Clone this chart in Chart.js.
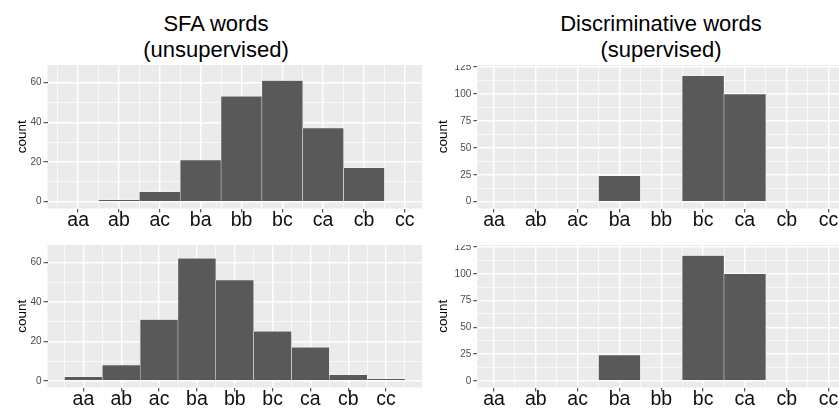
<!DOCTYPE html>
<html>
<head>
<meta charset="utf-8">
<script src="https://cdn.jsdelivr.net/npm/chart.js@4.4.1/dist/chart.umd.min.js"></script>
<style>
  html, body { margin: 0; padding: 0; background: #ffffff; }
  body { width: 839px; height: 408px; overflow: hidden; position: relative; font-family: "Liberation Sans", Arial, sans-serif; }
  .title { position: absolute; top: 10.5px; text-align: center; font-size: 22px; line-height: 26px; color: #000; white-space: nowrap; }
  canvas { position: absolute; }
</style>
</head>
<body>
<div class="title" style="left:0;width:432px">SFA words<br>(unsupervised)</div>
<div class="title" style="left:432px;width:458px">Discriminative words<br>(supervised)</div>
<canvas id="tl" width="422" height="165" style="left:0;top:65px"></canvas>
<canvas id="bl" width="422" height="163" style="left:0;top:245px"></canvas>
<canvas id="tr" width="407" height="165" style="left:432px;top:65px"></canvas>
<canvas id="br" width="407" height="163" style="left:432px;top:245px"></canvas>
<script>
// ---- data ----
const categories = ['aa', 'ab', 'ac', 'ba', 'bb', 'bc', 'ca', 'cb', 'cc'];
const sfaUnsupTop = [0, 1, 5, 21, 53, 61, 37, 17, 0];
const sfaUnsupBottom = [2, 8, 31, 62, 51, 25, 17, 3, 1];
const discSupTop = [0, 0, 0, 24, 0, 117, 100, 0, 0];
const discSupBottom = [0, 0, 0, 24, 0, 117, 100, 0, 0];
const sfaCountMajor = [0, 20, 40, 60];
const sfaCountMinor = [10, 30, 50];
const discCountMajor = [0, 25, 50, 75, 100, 125];
const discCountMinor = [12.5, 37.5, 62.5, 87.5, 112.5];
const yTitle = 'count';

Chart.defaults.font.family = '"Liberation Sans", Arial, sans-serif';

const panelBg = {
  id: 'panelBg',
  beforeDraw(chart) {
    const { ctx, chartArea: a } = chart;
    ctx.save();
    ctx.fillStyle = '#EBEBEB';
    ctx.fillRect(a.left, a.top, a.right - a.left, a.bottom - a.top);
    ctx.restore();
  }
};

function makePanel(id, values, o) {
  const catPos = categories.map((c, i) => i + 1);
  const xMinor = categories.map((c, i) => i + 0.5).concat([categories.length + 0.5]);
  const xTicks = catPos.concat(xMinor).filter(v => v >= o.xMin && v <= o.xMax).sort((a, b) => a - b);
  const yTicks = o.yMajor.concat(o.yMinor).filter(v => v >= o.yMin && v <= o.yMax).sort((a, b) => a - b);
  const xMajorSet = new Set(catPos);
  const yMajorSet = new Set(o.yMajor);
  const gridFor = (set) => ({
    offset: false,
    color: '#FFFFFF',
    lineWidth: (c) => (c.tick && set.has(c.tick.value)) ? 1.4 : 0.7,
    tickColor: (c) => (c.tick && set.has(c.tick.value)) ? '#333333' : 'rgba(0,0,0,0)',
    tickWidth: (c) => (c.tick && set.has(c.tick.value)) ? 1 : 0,
    tickLength: 4,
    drawOnChartArea: true,
    drawTicks: true
  });
  return new Chart(document.getElementById(id), {
    type: 'bar',
    data: {
      datasets: [{
        data: values.map((v, i) => ({ x: catPos[i], y: v })),
        backgroundColor: '#595959',
        borderColor: '#FFFFFF',
        borderWidth: 0.5,
        barThickness: 'flex',
        categoryPercentage: 1,
        barPercentage: 1
      }]
    },
    options: {
      responsive: false,
      maintainAspectRatio: false,
      devicePixelRatio: 1,
      animation: false,
      events: [],
      layout: { padding: 0 },
      plugins: { legend: { display: false }, tooltip: { enabled: false }, title: { display: false } },
      scales: {
        x: {
          type: 'linear',
          offset: false,
          min: o.xMin,
          max: o.xMax,
          bounds: 'data',
          afterBuildTicks: (s) => { s.ticks = xTicks.map(v => ({ value: v })); },
          afterFit: (s) => { s.height = o.xAxisH; s.paddingLeft = 0; s.paddingRight = 0; },
          border: { display: false },
          grid: gridFor(xMajorSet),
          ticks: {
            autoSkip: false, maxRotation: 0, minRotation: 0,
            padding: -1.5,
            color: '#111111',
            font: { size: 19.5, lineHeight: 1 },
            callback: (v) => Number.isInteger(v) ? categories[v - 1] : ''
          }
        },
        y: {
          type: 'linear',
          position: 'left',
          min: o.yMin,
          max: o.yMax,
          bounds: 'data',
          afterBuildTicks: (s) => { s.ticks = yTicks.map(v => ({ value: v })); },
          afterFit: (s) => { s.width = o.yAxisW; s.paddingTop = 0; s.paddingBottom = 0; },
          border: { display: false },
          grid: gridFor(yMajorSet),
          ticks: {
            autoSkip: false,
            padding: 2,
            color: '#4D4D4D',
            font: { size: 10 },
            callback: (v) => yMajorSet.has(v) ? String(v) : ''
          },
          title: {
            display: true,
            text: yTitle,
            color: '#000000',
            font: { size: 13.5 },
            padding: { top: o.titlePad, bottom: 0 }
          }
        }
      }
    },
    plugins: [panelBg]
  });
}

makePanel('tl', sfaUnsupTop, { xMin: 0.25, xMax: 9.42, yMin: -3.4, yMax: 68.8, yMajor: sfaCountMajor, yMinor: sfaCountMinor, yAxisW: 47.5, xAxisH: 21.5, titlePad: 13.9 });
makePanel('bl', sfaUnsupBottom, { xMin: 0.05, xMax: 9.95, yMin: -3.4, yMax: 68.8, yMajor: sfaCountMajor, yMinor: sfaCountMinor, yAxisW: 47.5, xAxisH: 20.5, titlePad: 13.9 });
makePanel('tr', discSupTop, { xMin: 0.6, xMax: 9.25, yMin: -6.3, yMax: 127, yMajor: discCountMajor, yMinor: discCountMinor, yAxisW: 45.3, xAxisH: 21.5, titlePad: 2.9 });
makePanel('br', discSupBottom, { xMin: 0.6, xMax: 9.25, yMin: -6.3, yMax: 127, yMajor: discCountMajor, yMinor: discCountMinor, yAxisW: 45.3, xAxisH: 20.5, titlePad: 2.9 });
</script>
</body>
</html>
